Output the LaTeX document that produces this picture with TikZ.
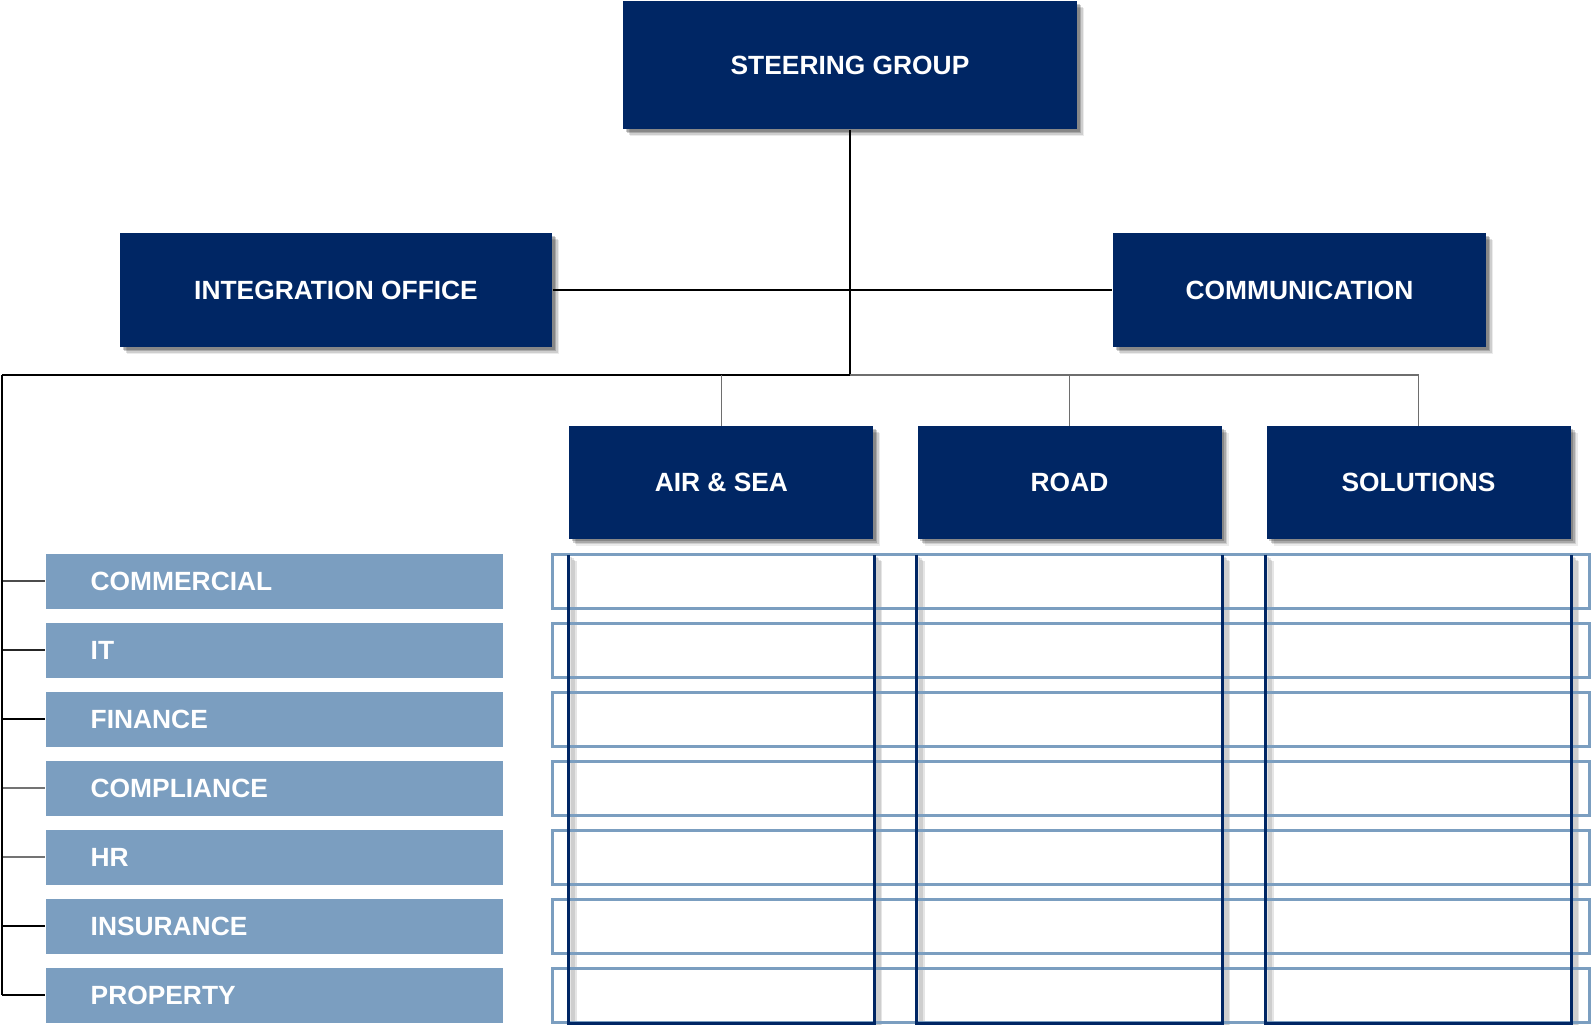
\documentclass[tikz,border=0pt]{standalone}
\usepackage{fontspec}
\setmainfont{Liberation Sans}
\usepackage{xcolor}
\definecolor{cNavy}{HTML}{002664}
\definecolor{cSky}{HTML}{7B9EC0}
\definecolor{cGray}{HTML}{6E6E6E}
\usetikzlibrary{positioning,shadows}
\tikzset{
  soft-shadow/.style={
    drop shadow={shadow xshift=0.07cm,shadow yshift=-0.07cm,fill=black,opacity=0.08},
    drop shadow={shadow xshift=0.055cm,shadow yshift=-0.055cm,fill=black,opacity=0.12},
    drop shadow={shadow xshift=0.04cm,shadow yshift=-0.04cm,fill=black,opacity=0.18},
    drop shadow={shadow xshift=0.025cm,shadow yshift=-0.025cm,fill=black,opacity=0.2}},
  box-head/.style={fill=cNavy,text=white,inner sep=0pt,align=center,
    font=\bfseries\fontsize{7.5}{9}\selectfont,soft-shadow},
  box-unit/.style={box-head,minimum width=3.04cm,minimum height=1.126cm},
  box-dept/.style={fill=cSky,text=white,inner sep=0pt,align=left,
    minimum width=4.576cm,minimum height=0.548cm,text width=3.676cm,
    font=\bfseries\fontsize{7.5}{9}\selectfont},
  grid-row/.style={draw=cSky,line width=0.85pt,minimum width=10.37cm,
    minimum height=0.548cm,inner sep=0pt},
  col-box/.style={minimum width=3.04cm,minimum height=4.67cm,inner sep=0pt},
  col-line/.style={draw=cNavy,line width=0.9pt},
  col-shade/.style={draw=black,line width=0.9pt,opacity=0.1},
  link/.style={draw=black,line width=0.8pt},
  link-thin/.style={draw=black,line width=0.45pt},
  link-gray/.style={draw=cGray,line width=0.45pt},
  tick/.style={line width=0.6pt},
}
\begin{document}
\begin{tikzpicture}
  \useasboundingbox (0,0) rectangle (15.91,-10.24);
  % top level
  \node[box-head,minimum width=4.54cm,minimum height=1.28cm] (steer) at (8.50,-0.65) {STEERING GROUP};
  \node[box-head,minimum width=4.32cm,minimum height=1.14cm] (integ) at (3.36,-2.90) {INTEGRATION OFFICE};
  \node[box-head,minimum width=3.73cm,minimum height=1.14cm] (comm) at (12.995,-2.90) {COMMUNICATION};
  % business units
  \node[box-unit] (airsea) at (7.214,-4.825) {AIR \& SEA};
  \node[box-unit] (road) at (10.695,-4.825) {ROAD};
  \node[box-unit] (sol) at (14.185,-4.825) {SOLUTIONS};
  \coordinate (hub) at (8.50,-3.75);
  \coordinate (corner) at (0.02,-3.75);
  \coordinate (gridx) at (10.71,0);

  \draw[link-thin] (integ.east) -- (comm.west);
  \draw[link] (steer.south) -- (hub) -- (corner);
  \draw[link-gray] (hub) -| (sol.north);
  \foreach \u in {airsea,road}
    \draw[link-gray] (\u.north) -- (\u.north |- hub);

  % unit columns (shade first)
  \foreach \u [count=\i] in {airsea,road,sol} {
    \node[col-box,below=0.152cm of \u] (col\i) {};
    \foreach \s in {0.02,0.035,0.05,0.065}
      \draw[col-shade,transform canvas={xshift=\s cm,yshift=-\s cm}]
        (col\i.north west) |- (col\i.south east) -- (col\i.north east);
  }

  % functions
  \foreach \name/\tk [count=\i] in {COMMERCIAL/black!70,IT/black!85,FINANCE/black,
      COMPLIANCE/black!55,HR/black!55,INSURANCE/black,PROPERTY/black} {
    \node[box-dept] (r\i) at (2.745,{-5.814-0.69*(\i-1)}) {\name};
    \node[grid-row] (g\i) at (r\i -| gridx) {};
    \draw[tick,draw=\tk] (corner |- r\i.west) -- (r\i.west);
  }
  \draw[link] (corner) -- (corner |- r7.west);

  \foreach \i in {1,2,3}
    \draw[col-line] (col\i.north west) |- (col\i.south east) -- (col\i.north east);
\end{tikzpicture}
\end{document}
